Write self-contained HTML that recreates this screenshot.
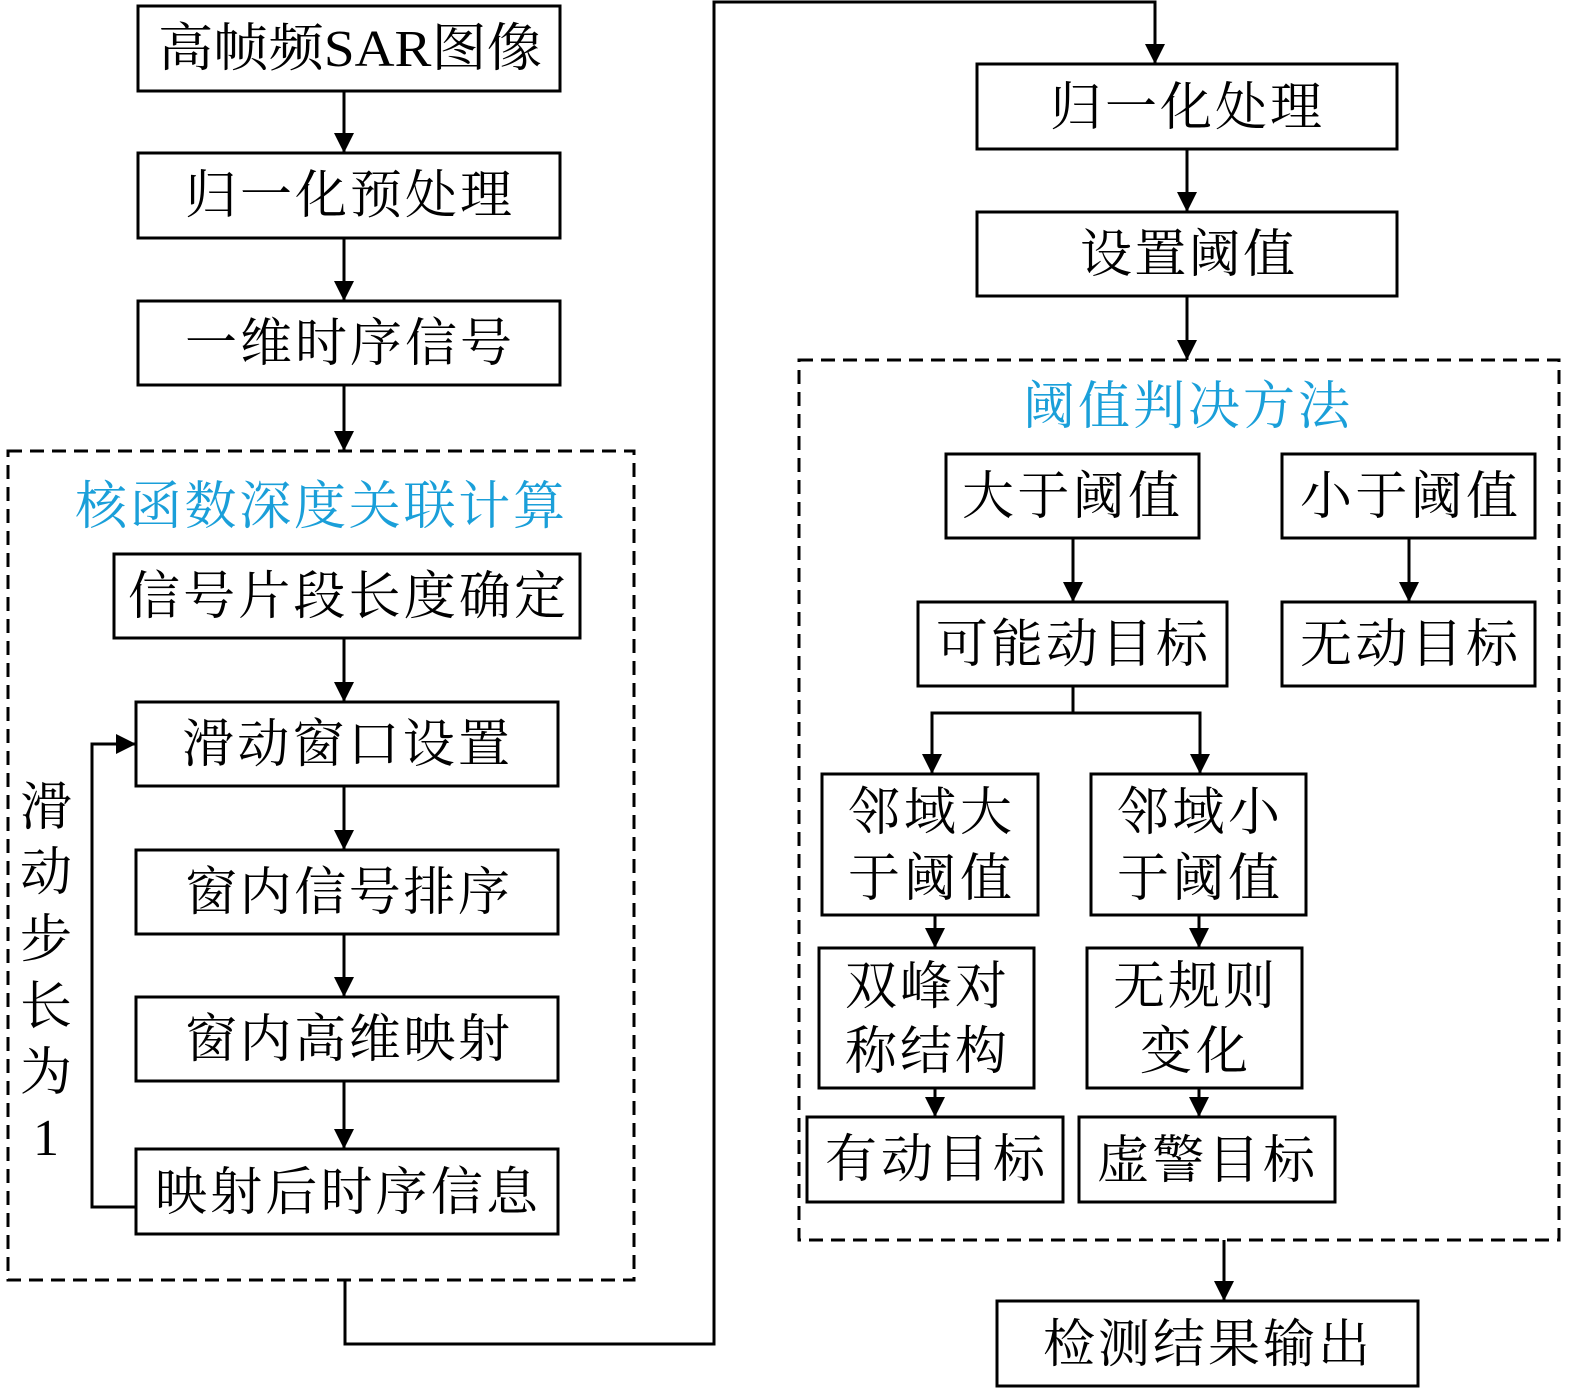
<!DOCTYPE html>
<html><head><meta charset="utf-8"><style>
html,body{margin:0;padding:0;background:#fff}
svg text{font-family:"Liberation Serif","Noto Serif CJK SC",serif;font-size:52px;fill:#000}
svg text.c{fill:#1a9fd9}
</style></head><body>
<svg width="1575" height="1394" viewBox="0 0 1575 1394" xmlns="http://www.w3.org/2000/svg">
<defs><marker id="a" markerWidth="20" markerHeight="20" refX="20" refY="10" orient="auto" markerUnits="userSpaceOnUse"><path d="M0,0 L20,10 L0,20 z" fill="#000"/></marker></defs>
<g fill="none" stroke="#000" stroke-width="3">
<rect x="138" y="6" width="422" height="85"/>
<rect x="138" y="153" width="422" height="85"/>
<rect x="138" y="301" width="422" height="84"/>
<rect x="8" y="451" width="626" height="829" stroke-dasharray="14,8"/>
<rect x="114" y="554" width="466" height="84"/>
<rect x="136" y="702" width="422" height="84"/>
<rect x="136" y="850" width="422" height="84"/>
<rect x="136" y="997" width="422" height="84"/>
<rect x="136" y="1149" width="422" height="85"/>
<rect x="977" y="64" width="420" height="85"/>
<rect x="977" y="212" width="420" height="84"/>
<rect x="799" y="360" width="760" height="880" stroke-dasharray="14,8"/>
<rect x="946" y="454" width="253" height="84"/>
<rect x="1282" y="454" width="253" height="84"/>
<rect x="918" y="602" width="309" height="84"/>
<rect x="1282" y="602" width="253" height="84"/>
<rect x="822" y="774" width="216" height="141"/>
<rect x="1091" y="774" width="215" height="141"/>
<rect x="819" y="948" width="215" height="140"/>
<rect x="1087" y="948" width="215" height="140"/>
<rect x="807" y="1117" width="256" height="85"/>
<rect x="1079" y="1117" width="256" height="85"/>
<rect x="997" y="1301" width="421" height="85"/>
<g marker-end="url(#a)">
<line x1="344" y1="91" x2="344" y2="153"/>
<line x1="344" y1="238" x2="344" y2="301"/>
<line x1="344" y1="385" x2="344" y2="451"/>
<line x1="344" y1="638" x2="344" y2="702"/>
<line x1="344" y1="786" x2="344" y2="850"/>
<line x1="344" y1="934" x2="344" y2="997"/>
<line x1="344" y1="1081" x2="344" y2="1149"/>
<polyline points="136,1207 92,1207 92,744 136,744"/>
<polyline points="345,1280 345,1344 714,1344 714,2 1155,2 1155,64"/>
<line x1="1187" y1="149" x2="1187" y2="212"/>
<line x1="1187" y1="296" x2="1187" y2="360"/>
<line x1="1073" y1="538" x2="1073" y2="602"/>
<line x1="1409" y1="538" x2="1409" y2="602"/>
<polyline points="1073,686 1073,713 932,713 932,774"/>
<polyline points="1073,713 1200,713 1200,774"/>
<line x1="935" y1="915" x2="935" y2="948"/>
<line x1="1199" y1="915" x2="1199" y2="948"/>
<line x1="935" y1="1088" x2="935" y2="1117"/>
<line x1="1199" y1="1088" x2="1199" y2="1117"/>
<line x1="1224" y1="1240" x2="1224" y2="1301"/>
</g>
</g>
<text x="158" y="66" textLength="384" lengthAdjust="spacingAndGlyphs">高帧频SAR图像</text>
<text x="185" y="213" textLength="327">归一化预处理</text>
<text x="185" y="361" textLength="327">一维时序信号</text>
<text class="c" x="75" y="524" textLength="490">核函数深度关联计算</text>
<text x="128" y="614" textLength="438">信号片段长度确定</text>
<text x="182" y="762" textLength="328">滑动窗口设置</text>
<text x="185" y="910" textLength="325">窗内信号排序</text>
<text x="185" y="1057" textLength="325">窗内高维映射</text>
<text x="155" y="1210" textLength="383">映射后时序信息</text>
<text x="20" y="825">滑</text>
<text x="20" y="890">动</text>
<text x="20" y="957">步</text>
<text x="20" y="1024">长</text>
<text x="20" y="1090">为</text>
<text x="33" y="1155">1</text>
<text x="1050" y="125" textLength="272">归一化处理</text>
<text x="1080" y="272" textLength="215">设置阈值</text>
<text class="c" x="1023" y="424" textLength="327">阈值判决方法</text>
<text x="962" y="514" textLength="218">大于阈值</text>
<text x="1300" y="514" textLength="218">小于阈值</text>
<text x="936" y="662" textLength="272">可能动目标</text>
<text x="1300" y="662" textLength="218">无动目标</text>
<text x="848" y="830" textLength="164">邻域大</text>
<text x="848" y="896" textLength="164">于阈值</text>
<text x="1117" y="830" textLength="163">邻域小</text>
<text x="1117" y="896" textLength="163">于阈值</text>
<text x="845" y="1004" textLength="162">双峰对</text>
<text x="845" y="1069" textLength="162">称结构</text>
<text x="1113" y="1004" textLength="162">无规则</text>
<text x="1140" y="1069" textLength="108">变化</text>
<text x="825" y="1177" textLength="220">有动目标</text>
<text x="1097" y="1178" textLength="218">虚警目标</text>
<text x="1043" y="1362" textLength="327">检测结果输出</text>
</svg>
</body></html>
